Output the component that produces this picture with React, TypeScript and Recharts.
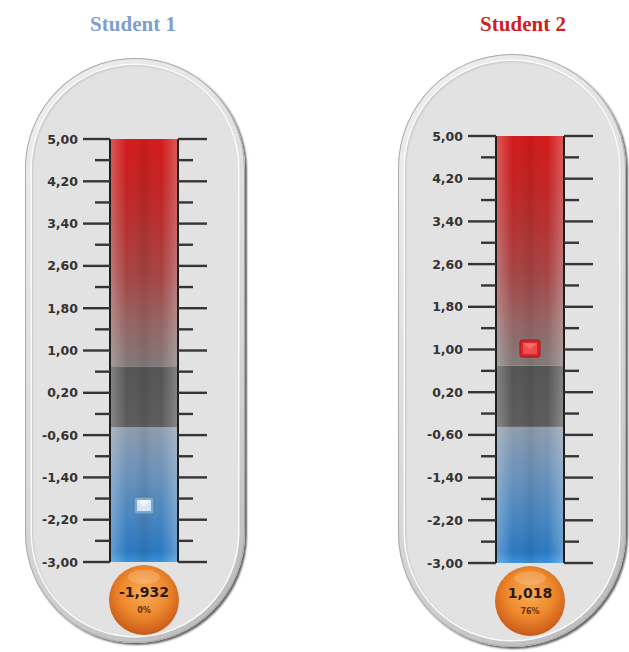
import { Bar, ComposedChart, LabelList, Scatter, XAxis, YAxis } from 'recharts';

const students = ['Student 1', 'Student 2'];
const readings = [-1.932, 1.018];
const percents = ['0%', '76%'];
const scaleMin = -3;
const scaleMax = 5;
const majorTicks = [5, 4.2, 3.4, 2.6, 1.8, 1, 0.2, -0.6, -1.4, -2.2, -3];
const minorTicks = [4.6, 3.8, 3, 2.2, 1.4, 0.6, -0.2, -1, -1.8, -2.6];
const coldBand = [-3, -0.45];
const neutralBand = [-0.45, 0.7];
const hotBand = [0.7, 5];

const allTicks = [...majorTicks, ...minorTicks].sort((a, b) => b - a);

// where each thermometer sits on the page
const frames = [
  { left: 0, width: 260, margin: { top: 139, right: 42, bottom: 90, left: 30 }, capsule: { x: 25, y: 58, w: 220, h: 585 }, titleX: 133, titleColor: '#7f9dcf', leftMajor: 27 },
  { left: 385, width: 244, margin: { top: 136, right: 25, bottom: 89, left: 31 }, capsule: { x: 398, y: 54, w: 228, h: 593 }, titleX: 523, titleColor: '#cf1f1f', leftMajor: 28 },
];

const fmt = (v: number, d = 2) => v.toFixed(d).replace('.', ',');
const isMajor = (v: number) => majorTicks.some((t) => Math.abs(t - v) < 1e-9);

function makeTick(side: 'left' | 'right', majorLen: number) {
  return (props: any) => {
    const { x, y, payload } = props;
    const v = payload.value;
    const major = isMajor(v);
    const len = major ? majorLen : 15;
    const dir = side === 'left' ? -1 : 1;
    return (
      <g>
        <line x1={x} x2={x + dir * len} y1={y} y2={y} stroke="#353535" strokeWidth={2.4} />
        {major && side === 'left' && (
          <text
            x={x - len - 5}
            y={y}
            dy="0.36em"
            textAnchor="end"
            fontFamily="DejaVu Sans"
            fontWeight="bold"
            fontSize={12.5}
            fill="#333"
          >
            {fmt(v)}
          </text>
        )}
      </g>
    );
  };
}

function zoneShape(fillId: string, sheenId: string) {
  return (props: any) => {
    const { x, y, width, height } = props;
    return (
      <g>
        <rect x={x} y={y} width={width} height={height} fill={`url(#${fillId})`} />
        <rect x={x} y={y} width={width} height={height} fill={`url(#${sheenId})`} />
      </g>
    );
  };
}

function frameShape(props: any) {
  const { x, y, width, height } = props;
  return (
    <g>
      <line x1={x} x2={x} y1={y} y2={y + height} stroke="#1d1d1d" strokeWidth={2} />
      <line x1={x + width} x2={x + width} y1={y} y2={y + height} stroke="#1d1d1d" strokeWidth={2} />
    </g>
  );
}

function Marker(props: any) {
  const { cx, cy, payload } = props;
  const hot = payload.reading >= hotBand[0];
  const w = 20;
  const h = 17;
  return (
    <g>
      <rect x={cx - w / 2} y={cy - h / 2} width={w} height={h} rx={2} fill={hot ? '#d42626' : '#7ba6cf'} stroke={hot ? '#a01818' : '#4f7aa3'} strokeWidth={1} />
      <rect x={cx - w / 2 + 3} y={cy - h / 2 + 3} width={w - 6} height={h - 6} fill={hot ? '#f04a4a' : '#d6e7f6'} />
      <polygon
        points={`${cx - w / 2 + 3},${cy - h / 2 + 3} ${cx + w / 2 - 3},${cy - h / 2 + 3} ${cx},${cy + 1}`}
        fill={hot ? '#ff7070' : '#f6faff'}
        opacity={0.8}
      />
    </g>
  );
}

function Bulb(props: any) {
  const { x, y, width, height, value, pct, gid } = props;
  const cx = x + width / 2;
  const cy = y + height + 38;
  return (
    <g>
      <circle cx={cx} cy={cy} r={35} fill={`url(#${gid})`} />
      <ellipse cx={cx} cy={cy - 23} rx={16} ry={7} fill="#fff" opacity={0.18} />
      <text x={cx} y={cy - 3} textAnchor="middle" fontFamily="DejaVu Sans" fontWeight="bold" fontSize={14} fill="#2b1a0e">
        {fmt(value, 3)}
      </text>
      <text x={cx} y={cy + 13} textAnchor="middle" fontFamily="DejaVu Sans" fontWeight="bold" fontSize={8} fill="#6a300a">
        {pct}
      </text>
    </g>
  );
}

function Thermometer({ idx }: { idx: number }) {
  const f = frames[idx];
  const row = {
    name: students[idx],
    cold: coldBand,
    neutral: neutralBand,
    hot: hotBand,
    tube: [scaleMin, scaleMax],
    reading: readings[idx],
  };
  const p = `t${idx}`;
  const c = f.capsule;
  return (
    <>
      <div
        style={{
          position: 'absolute',
          left: c.x,
          top: c.y,
          width: c.w,
          height: c.h,
          borderRadius: c.w / 2,
          background: 'linear-gradient(135deg, #f0f0f0 0%, #d6d6d6 60%, #b8b8b8 100%)',
          boxShadow: '2px 2px 2px rgba(0,0,0,0.6), inset 0 0 0 1px #a9a9a9',
        }}
      >
        <div
          style={{
            position: 'absolute',
            left: 7,
            top: 7,
            right: 7,
            bottom: 7,
            borderRadius: c.w / 2 - 7,
            background: '#e3e2e2',
            boxShadow: '0 0 0 1.5px #fafafa, inset 1px 1px 2px rgba(0,0,0,0.12)',
          }}
        />
      </div>
      <div
        style={{
          position: 'absolute',
          left: f.titleX - 80,
          top: 12,
          width: 160,
          textAlign: 'center',
          fontFamily: 'Liberation Serif',
          fontWeight: 'bold',
          fontSize: 21,
          color: f.titleColor,
        }}
      >
        {students[idx]}
      </div>
      <div style={{ position: 'absolute', left: f.left, top: 0 }}>
        <ComposedChart width={f.width} height={652} data={[row]} margin={f.margin} barCategoryGap={0} barGap={0}>
          <defs>
            <linearGradient id={`${p}-hot`} x1="0" y1="0" x2="0" y2="1">
              <stop offset="0%" stopColor="#d41a1a" />
              <stop offset="20%" stopColor="#c42222" />
              <stop offset="40%" stopColor="#b53232" />
              <stop offset="60%" stopColor="#a64444" />
              <stop offset="80%" stopColor="#966262" />
              <stop offset="100%" stopColor="#827a7a" />
            </linearGradient>
            <linearGradient id={`${p}-neutral`} x1="0" y1="0" x2="0" y2="1">
              <stop offset="0%" stopColor="#545454" />
              <stop offset="100%" stopColor="#5c5c5c" />
            </linearGradient>
            <linearGradient id={`${p}-cold`} x1="0" y1="0" x2="0" y2="1">
              <stop offset="0%" stopColor="#8d9cae" />
              <stop offset="30%" stopColor="#6f93b9" />
              <stop offset="65%" stopColor="#4886c0" />
              <stop offset="92%" stopColor="#2a78c0" />
              <stop offset="100%" stopColor="#3a92da" />
            </linearGradient>
            <linearGradient id={`${p}-sheen`} x1="0" y1="0" x2="1" y2="0">
              <stop offset="0%" stopColor="#ffffff" stopOpacity={0.28} />
              <stop offset="25%" stopColor="#ffffff" stopOpacity={0} />
              <stop offset="50%" stopColor="#000000" stopOpacity={0.07} />
              <stop offset="75%" stopColor="#ffffff" stopOpacity={0} />
              <stop offset="100%" stopColor="#ffffff" stopOpacity={0.28} />
            </linearGradient>
            <radialGradient id={`${p}-bulb`} cx="50%" cy="40%" r="60%">
              <stop offset="0%" stopColor="#f9ad58" />
              <stop offset="55%" stopColor="#ee892c" />
              <stop offset="100%" stopColor="#c8591a" />
            </radialGradient>
          </defs>
          <XAxis xAxisId="cold" dataKey="name" hide />
          <XAxis xAxisId="neutral" dataKey="name" hide />
          <XAxis xAxisId="hot" dataKey="name" hide />
          <XAxis xAxisId="tube" dataKey="name" hide />
          <YAxis
            yAxisId="l"
            orientation="left"
            type="number"
            domain={[scaleMin, scaleMax]}
            allowDataOverflow
            ticks={allTicks}
            interval={0}
            width={80}
            tickSize={0}
            tickMargin={0}
            tickLine={false}
            axisLine={false}
            tick={makeTick('left', f.leftMajor)}
          />
          <YAxis
            yAxisId="r"
            orientation="right"
            type="number"
            domain={[scaleMin, scaleMax]}
            allowDataOverflow
            ticks={allTicks}
            interval={0}
            width={40}
            tickSize={0}
            tickMargin={0}
            tickLine={false}
            axisLine={false}
            tick={makeTick('right', 29)}
          />
          <Bar xAxisId="cold" yAxisId="l" dataKey="cold" shape={zoneShape(`${p}-cold`, `${p}-sheen`)} isAnimationActive={false} />
          <Bar xAxisId="neutral" yAxisId="l" dataKey="neutral" shape={zoneShape(`${p}-neutral`, `${p}-sheen`)} isAnimationActive={false} />
          <Bar xAxisId="hot" yAxisId="l" dataKey="hot" shape={zoneShape(`${p}-hot`, `${p}-sheen`)} isAnimationActive={false} />
          <Bar xAxisId="tube" yAxisId="l" dataKey="tube" shape={frameShape} isAnimationActive={false}>
            <LabelList
              dataKey="reading"
              content={(lp: any) => <Bulb {...lp} pct={percents[idx]} gid={`${p}-bulb`} />}
            />
          </Bar>
          <Scatter xAxisId="tube" yAxisId="l" dataKey="reading" shape={Marker} isAnimationActive={false} />
        </ComposedChart>
      </div>
    </>
  );
}

export default function App() {
  return (
    <div style={{ position: 'absolute', left: 0, top: 0, width: 629, height: 652, background: '#fff' }}>
      <Thermometer idx={0} />
      <Thermometer idx={1} />
    </div>
  );
}
